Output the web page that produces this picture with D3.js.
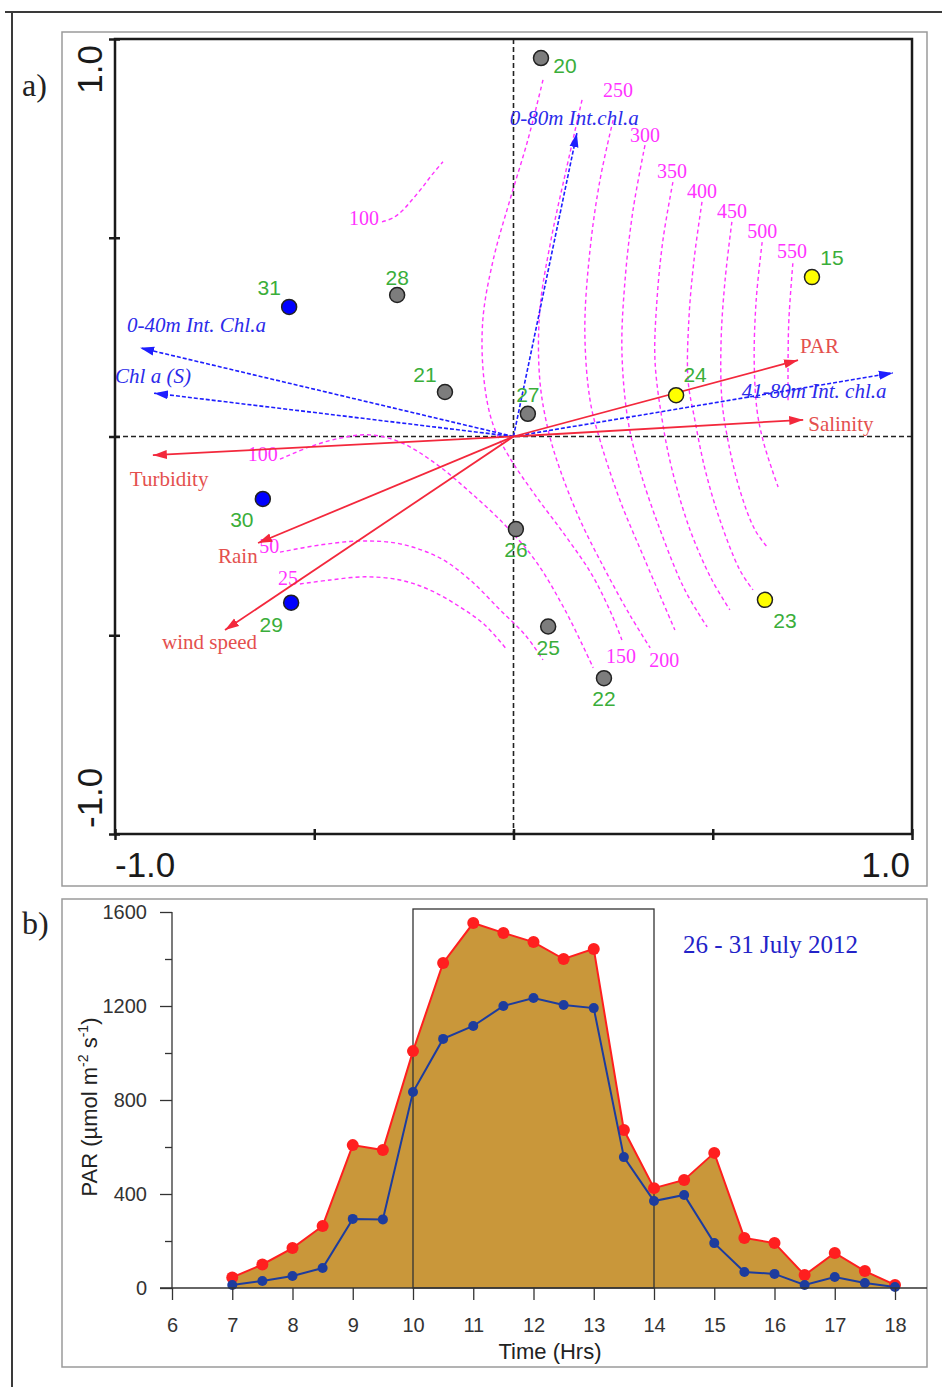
<!DOCTYPE html>
<html>
<head>
<meta charset="utf-8">
<script src="https://cdn.jsdelivr.net/npm/d3@7"></script>
<style>
  body { margin: 0; background: #fff; }
  svg { display: block; }
</style>
</head>
<body>
<div id="chart"></div>
<script>
// ---------- panel a: sites ----------
const siteIds   = ["20", "15", "31", "28", "21", "27", "24", "30", "26", "29", "25", "23", "22"];
const siteX     = [0.069, 0.749, -0.563, -0.292, -0.172, 0.036, 0.408, -0.629, 0.006, -0.558, 0.087, 0.631, 0.227];
const siteY     = [0.952, 0.401, 0.326, 0.356, 0.112, 0.057, 0.104, -0.157, -0.233, -0.418, -0.478, -0.411, -0.608];
const siteGroup = ["grey", "yellow", "blue", "grey", "grey", "grey", "yellow", "blue", "grey", "blue", "grey", "yellow", "grey"];

// ---------- panel a: environmental vectors (red) ----------
const envNames = ["PAR", "Salinity", "Turbidity", "Rain", "wind speed"];
const envX = [0.714, 0.727, -0.905, -0.641, -0.724];
const envY = [0.192, 0.042, -0.047, -0.268, -0.487];

// ---------- panel a: chlorophyll vectors (blue, dashed) ----------
const chlNames = ["0-80m Int.chl.a", "41-80m Int. chl.a", "0-40m Int. Chl.a", "Chl a (S)"];
const chlX = [0.159, 0.952, -0.937, -0.902];
const chlY = [0.763, 0.160, 0.223, 0.109];

// ---------- panel a: fitted surface contours ----------
const contourLevels = ["150", "200", "250", "300", "350", "400", "450", "500", "550", "25", "50", "100", "100"];
const contourPaths = [
  [[0.074,0.897],[0.036,0.746],[-0.009,0.595],[-0.051,0.444],[-0.077,0.293],[-0.074,0.142],[-0.051,0.029],[-0.009,-0.054],[0.054,-0.147],[0.129,-0.248],[0.197,-0.348],[0.247,-0.449],[0.272,-0.512]],
  [[0.172,0.847],[0.132,0.670],[0.094,0.494],[0.066,0.318],[0.066,0.142],[0.087,0.016],[0.117,-0.084],[0.167,-0.210],[0.230,-0.336],[0.292,-0.449],[0.343,-0.532]],
  [[0.250,0.796],[0.217,0.645],[0.192,0.469],[0.179,0.268],[0.192,0.092],[0.217,-0.009],[0.267,-0.160],[0.330,-0.311],[0.405,-0.487]],
  [[0.330,0.733],[0.300,0.570],[0.280,0.394],[0.272,0.218],[0.287,0.042],[0.317,-0.084],[0.368,-0.235],[0.430,-0.386],[0.486,-0.479]],
  [[0.400,0.640],[0.375,0.494],[0.360,0.343],[0.355,0.192],[0.373,0.042],[0.398,-0.084],[0.443,-0.235],[0.498,-0.361],[0.543,-0.436]],
  [[0.473,0.590],[0.453,0.444],[0.440,0.293],[0.438,0.142],[0.455,0.042],[0.481,-0.084],[0.518,-0.210],[0.568,-0.336],[0.601,-0.386]],
  [[0.548,0.540],[0.531,0.394],[0.521,0.243],[0.523,0.092],[0.538,-0.009],[0.568,-0.135],[0.606,-0.235],[0.639,-0.281]],
  [[0.624,0.489],[0.609,0.343],[0.604,0.192],[0.611,0.067],[0.626,-0.009],[0.649,-0.084],[0.664,-0.127]],
  [[0.701,0.436],[0.691,0.293],[0.689,0.192],[0.689,0.084]],
  [[-0.536,-0.371],[-0.460,-0.361],[-0.373,-0.353],[-0.285,-0.361],[-0.210,-0.386],[-0.134,-0.429],[-0.072,-0.474],[-0.016,-0.537]],
  [[-0.586,-0.291],[-0.486,-0.273],[-0.385,-0.263],[-0.285,-0.270],[-0.184,-0.306],[-0.109,-0.361],[-0.034,-0.436],[0.029,-0.499],[0.074,-0.562]],
  [[-0.586,-0.057],[-0.511,-0.026],[-0.435,-0.004],[-0.360,0.004],[-0.285,-0.014],[-0.197,-0.067],[-0.109,-0.140],[-0.021,-0.223],[0.054,-0.311],[0.129,-0.436],[0.200,-0.582]],
  [[-0.330,0.540],[-0.302,0.550],[-0.277,0.570],[-0.255,0.595],[-0.230,0.625],[-0.205,0.658],[-0.177,0.691]]
];
// where each contour's value is printed (data units)
const contourLabelX = [0.270, 0.378, 0.262, 0.330, 0.398, 0.473, 0.548, 0.624, 0.699, -0.566, -0.613, -0.629, -0.375];
const contourLabelY = [-0.570, -0.580, 0.853, 0.741, 0.650, 0.600, 0.550, 0.499, 0.449, -0.374, -0.293, -0.062, 0.532];

// ---------- panel b: PAR diurnal cycle ----------
const hours  = [7, 7.5, 8, 8.5, 9, 9.5, 10, 10.5, 11, 11.5, 12, 12.5, 13, 13.5, 14, 14.5, 15, 15.5, 16, 16.5, 17, 17.5, 18];
const parMax = [45, 100, 170, 264, 608, 587, 1008, 1383, 1553, 1511, 1472, 1400, 1443, 672, 425, 460, 575, 213, 191, 55, 149, 72, 13];
const parMean = [13, 30, 51, 85, 294, 292, 834, 1060, 1115, 1200, 1234, 1204, 1191, 557, 370, 396, 191, 68, 60, 13, 47, 21, 4];
const hourTicks = [6, 7, 8, 9, 10, 11, 12, 13, 14, 15, 16, 17, 18];
const parTicks = [0, 400, 800, 1200, 1600];
const parMinorTicks = [200, 600, 1000, 1400];
const peakWindow = [10, 14];
const periodLabel = "26 - 31 July 2012";

const W = 942, H = 1387;
const sans = "'Liberation Sans', Arial, sans-serif";
const serif = "'Liberation Serif', 'Times New Roman', serif";

const svg = d3.select("#chart").append("svg")
  .attr("width", W).attr("height", H);

svg.append("rect").attr("width", W).attr("height", H).attr("fill", "#fff");

// outer page frame
svg.append("line").attr("x1", 5).attr("x2", W).attr("y1", 12).attr("y2", 12)
  .attr("stroke", "#3a3a3a").attr("stroke-width", 2);
svg.append("line").attr("x1", 12).attr("x2", 12).attr("y1", 12).attr("y2", H)
  .attr("stroke", "#3a3a3a").attr("stroke-width", 2);

// panel frames
svg.append("rect").attr("x", 62).attr("y", 32).attr("width", 865).attr("height", 854)
  .attr("fill", "none").attr("stroke", "#9a9a9a").attr("stroke-width", 1.5);
svg.append("rect").attr("x", 62).attr("y", 899).attr("width", 865).attr("height", 468)
  .attr("fill", "none").attr("stroke", "#9a9a9a").attr("stroke-width", 1.5);

svg.append("text").attr("x", 22).attr("y", 96).attr("font-family", serif)
  .attr("font-size", 32).attr("fill", "#222").text("a)");
svg.append("text").attr("x", 22).attr("y", 934).attr("font-family", serif)
  .attr("font-size", 32).attr("fill", "#222").text("b)");

// ================= panel a =================
const x = d3.scaleLinear().domain([-1, 1]).range([115, 912]);
const y = d3.scaleLinear().domain([-1, 1]).range([834, 39]);

const pa = svg.append("g");

// dashed zero lines
pa.append("line").attr("x1", x(-1)).attr("x2", x(1)).attr("y1", y(0)).attr("y2", y(0))
  .attr("stroke", "#222").attr("stroke-width", 1.6).attr("stroke-dasharray", "5,3");
pa.append("line").attr("x1", x(0)).attr("x2", x(0)).attr("y1", y(1)).attr("y2", y(-1))
  .attr("stroke", "#222").attr("stroke-width", 1.6).attr("stroke-dasharray", "5,3");

// contours
const contourLine = d3.line().x(d => x(d[0])).y(d => y(d[1])).curve(d3.curveCatmullRom);
pa.selectAll(".contour")
  .data(contourPaths)
  .enter().append("path")
  .attr("class", "contour")
  .attr("d", contourLine)
  .attr("fill", "none")
  .attr("stroke", "#ff33ff")
  .attr("stroke-width", 1.4)
  .attr("stroke-dasharray", "4,3");

pa.selectAll(".contour-label")
  .data(contourLevels)
  .enter().append("text")
  .attr("class", "contour-label")
  .attr("x", (d, i) => x(contourLabelX[i]))
  .attr("y", (d, i) => y(contourLabelY[i]))
  .attr("text-anchor", "middle")
  .attr("font-family", serif)
  .attr("font-size", 20)
  .attr("fill", "#ff33ff")
  .text(d => d);

// arrow heads
const defs = svg.append("defs");
[["arrRed", "#f3283c"], ["arrBlue", "#1e1eff"]].forEach(([id, c]) => {
  defs.append("marker").attr("id", id)
    .attr("viewBox", "0 -5 14 10").attr("refX", 14).attr("refY", 0)
    .attr("markerUnits", "userSpaceOnUse")
    .attr("markerWidth", 14).attr("markerHeight", 10)
    .attr("orient", "auto")
    .append("path").attr("d", "M0,-4.5L14,0L0,4.5Z").attr("fill", c);
});

// blue dashed vectors
pa.selectAll(".chl")
  .data(chlNames)
  .enter().append("line")
  .attr("x1", x(0)).attr("y1", y(0))
  .attr("x2", (d, i) => x(chlX[i])).attr("y2", (d, i) => y(chlY[i]))
  .attr("stroke", "#1e1eff").attr("stroke-width", 1.6)
  .attr("stroke-dasharray", "4,2")
  .attr("marker-end", "url(#arrBlue)");

// red vectors
pa.selectAll(".env")
  .data(envNames)
  .enter().append("line")
  .attr("x1", x(0)).attr("y1", y(0))
  .attr("x2", (d, i) => x(envX[i])).attr("y2", (d, i) => y(envY[i]))
  .attr("stroke", "#f3283c").attr("stroke-width", 1.8)
  .attr("marker-end", "url(#arrRed)");

// vector label offsets from the arrow tip
const envOffset = {"PAR": [2, -7], "Salinity": [5, 11], "Turbidity": [-23, 31], "Rain": [-40, 20], "wind speed": [-63, 19]};
const chlOffset = {"0-80m Int.chl.a": [-67, -8], "41-80m Int. chl.a": [-151, 25], "0-40m Int. Chl.a": [-13, -16], "Chl a (S)": [-39, -10]};

pa.selectAll(".env-label")
  .data(envNames)
  .enter().append("text")
  .attr("x", (d, i) => x(envX[i]) + envOffset[d][0])
  .attr("y", (d, i) => y(envY[i]) + envOffset[d][1])
  .attr("font-family", serif).attr("font-size", 21)
  .attr("fill", "#e4504e")
  .text(d => d);

pa.selectAll(".chl-label")
  .data(chlNames)
  .enter().append("text")
  .attr("x", (d, i) => x(chlX[i]) + chlOffset[d][0])
  .attr("y", (d, i) => y(chlY[i]) + chlOffset[d][1])
  .attr("font-family", serif).attr("font-size", 21).attr("font-style", "italic")
  .attr("fill", "#2b2bea")
  .text(d => d);

// sites
const groupFill = {grey: "#7d7d7d", yellow: "#ffff00", blue: "#0000ff"};
pa.selectAll(".site")
  .data(siteIds)
  .enter().append("circle")
  .attr("cx", (d, i) => x(siteX[i]))
  .attr("cy", (d, i) => y(siteY[i]))
  .attr("r", 7.5)
  .attr("fill", (d, i) => groupFill[siteGroup[i]])
  .attr("stroke", "#222").attr("stroke-width", 1.5);

const siteOffset = {
  "20": [24, 15], "15": [20, -12], "31": [-20, -12], "28": [0, -10], "21": [-20, -10],
  "27": [0, -12], "24": [19, -13], "30": [-21, 28], "26": [0, 28], "29": [-20, 29],
  "25": [0, 28], "23": [20, 28], "22": [0, 28]
};
pa.selectAll(".site-label")
  .data(siteIds)
  .enter().append("text")
  .attr("x", (d, i) => x(siteX[i]) + siteOffset[d][0])
  .attr("y", (d, i) => y(siteY[i]) + siteOffset[d][1])
  .attr("text-anchor", "middle")
  .attr("font-family", sans).attr("font-size", 21)
  .attr("fill", "#3aae3a")
  .text(d => d);

// plot frame and ticks
pa.append("rect").attr("x", x(-1)).attr("y", y(1))
  .attr("width", x(1) - x(-1)).attr("height", y(-1) - y(1))
  .attr("fill", "none").attr("stroke", "#1a1a1a").attr("stroke-width", 2.5);

const frameTicks = [-1, -0.5, 0, 0.5, 1];
pa.append("g").attr("transform", `translate(0,${y(-1) - 5})`)
  .call(d3.axisBottom(x).tickValues(frameTicks).tickSize(11).tickFormat(""))
  .call(g => g.select(".domain").remove())
  .call(g => g.selectAll("line").attr("stroke", "#1a1a1a").attr("stroke-width", 2.5));
pa.append("g").attr("transform", `translate(${x(-1) + 5},0)`)
  .call(d3.axisLeft(y).tickValues(frameTicks).tickSize(11).tickFormat(""))
  .call(g => g.select(".domain").remove())
  .call(g => g.selectAll("line").attr("stroke", "#1a1a1a").attr("stroke-width", 2.5));

pa.append("text").attr("x", x(-1)).attr("y", 877)
  .attr("font-family", sans).attr("font-size", 35).attr("fill", "#1a1a1a").text("-1.0");
pa.append("text").attr("x", x(1) - 2).attr("y", 877).attr("text-anchor", "end")
  .attr("font-family", sans).attr("font-size", 35).attr("fill", "#1a1a1a").text("1.0");
pa.append("text").attr("transform", `translate(102,${y(1) + 6}) rotate(-90)`)
  .attr("text-anchor", "end")
  .attr("font-family", sans).attr("font-size", 35).attr("fill", "#1a1a1a").text("1.0");
pa.append("text").attr("transform", `translate(102,${y(-1) - 6}) rotate(-90)`)
  .attr("text-anchor", "start")
  .attr("font-family", sans).attr("font-size", 35).attr("fill", "#1a1a1a").text("-1.0");

// ================= panel b =================
const px = d3.scaleLinear().domain([6, 18]).range([172, 895]);
const py = d3.scaleLinear().domain([0, 1600]).range([1288, 912]);
const pb = svg.append("g");

const area = d3.area().x((d, i) => px(hours[i])).y0(py(0)).y1(d => py(d));
pb.append("path").datum(parMax).attr("d", area).attr("fill", "#c9973a");

pb.append("rect")
  .attr("x", px(peakWindow[0])).attr("y", 909)
  .attr("width", px(peakWindow[1]) - px(peakWindow[0]))
  .attr("height", py(0) - 909)
  .attr("fill", "none").attr("stroke", "#333").attr("stroke-width", 1.3);

const lineGen = d3.line().x((d, i) => px(hours[i])).y(d => py(d));
pb.append("path").datum(parMax).attr("d", lineGen)
  .attr("fill", "none").attr("stroke", "#ff1f1f").attr("stroke-width", 2);
pb.selectAll(".dmax").data(parMax).enter().append("circle")
  .attr("cx", (d, i) => px(hours[i])).attr("cy", d => py(d)).attr("r", 6)
  .attr("fill", "#ff1f1f");
pb.append("path").datum(parMean).attr("d", lineGen)
  .attr("fill", "none").attr("stroke", "#1d3c9e").attr("stroke-width", 2);
pb.selectAll(".dmean").data(parMean).enter().append("circle")
  .attr("cx", (d, i) => px(hours[i])).attr("cy", d => py(d)).attr("r", 5)
  .attr("fill", "#1d3c9e");

// axes
pb.append("line").attr("x1", 160).attr("x2", 927).attr("y1", py(0)).attr("y2", py(0))
  .attr("stroke", "#333").attr("stroke-width", 1.3);
pb.append("line").attr("x1", px(6)).attr("x2", px(6)).attr("y1", py(1600)).attr("y2", py(0))
  .attr("stroke", "#333").attr("stroke-width", 1.3);

pb.append("g").attr("transform", `translate(${px(6)},0)`)
  .call(d3.axisLeft(py).tickValues(parTicks).tickSize(12).tickPadding(13).tickFormat(d3.format("d")))
  .call(g => g.select(".domain").remove())
  .call(g => g.selectAll("line").attr("stroke", "#333").attr("stroke-width", 1.3))
  .call(g => g.selectAll("text").attr("font-family", sans).attr("font-size", 20).attr("fill", "#333"));
pb.append("g").attr("transform", `translate(${px(6)},0)`)
  .call(d3.axisLeft(py).tickValues(parMinorTicks).tickSize(7).tickFormat(""))
  .call(g => g.select(".domain").remove())
  .call(g => g.selectAll("line").attr("stroke", "#333").attr("stroke-width", 1.3));
pb.append("g").attr("transform", `translate(0,${py(0)})`)
  .call(d3.axisBottom(px).tickValues(hourTicks).tickSize(12).tickPadding(18).tickFormat(d3.format("d")))
  .call(g => g.select(".domain").remove())
  .call(g => g.selectAll("line").attr("stroke", "#333").attr("stroke-width", 1.3))
  .call(g => g.selectAll("text").attr("font-family", sans).attr("font-size", 20).attr("fill", "#333"));

pb.append("text").attr("x", 550).attr("y", 1359).attr("text-anchor", "middle")
  .attr("font-family", sans).attr("font-size", 22).attr("fill", "#222").text("Time (Hrs)");

const yTitle = pb.append("text")
  .attr("transform", "translate(97,1107) rotate(-90)")
  .attr("text-anchor", "middle")
  .attr("font-family", sans).attr("font-size", 22).attr("fill", "#222");
yTitle.append("tspan").text("PAR (µmol m");
yTitle.append("tspan").attr("font-size", 14).attr("dy", -9).text("-2");
yTitle.append("tspan").attr("dy", 9).text(" s");
yTitle.append("tspan").attr("font-size", 14).attr("dy", -9).text("-1");
yTitle.append("tspan").attr("dy", 9).text(")");

pb.append("text").attr("x", 683).attr("y", 953)
  .attr("font-family", serif).attr("font-size", 25).attr("fill", "#2323c8")
  .text(periodLabel);
</script>
</body>
</html>
